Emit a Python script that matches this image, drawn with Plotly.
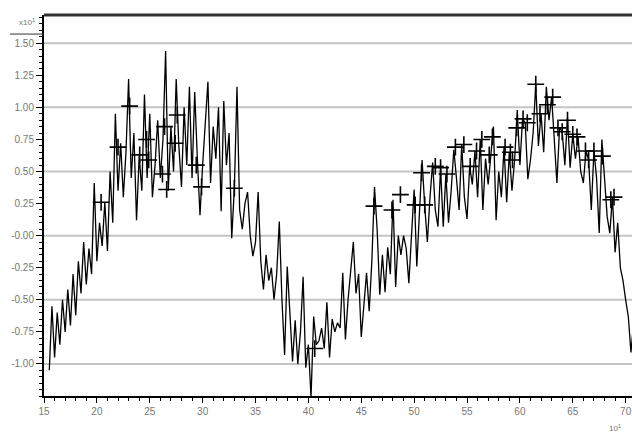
import plotly.graph_objects as go

# ---- data ----
x_start = 15.5
x_step = 0.25
signal = [
    -1.05, -0.55,                      # 15.5 - 15.75
    -0.95, -0.60, -0.85, -0.50,        # 16
    -0.75, -0.42, -0.70, -0.30,        # 17
    -0.62, -0.20, -0.45, -0.05,        # 18
    -0.38, -0.10, -0.30, 0.41,         # 19
    -0.20, 0.10, -0.08, 0.26,          # 20
    -0.12, 0.50, 0.10, 0.95,           # 21
    0.35, 0.72, 0.30, 0.65,            # 22
    1.22, 0.45, 0.80, 0.12,            # 23
    0.62, 0.35, 1.10, 0.45,            # 24
    0.95, 0.30, 0.55, 0.90,            # 25
    0.45, 0.75, 1.44, 0.35,            # 26
    0.85, 0.50, 1.22, 0.70,            # 27
    0.38, 1.00, 0.55, 1.16,            # 28
    0.45, 1.12, 0.60, 0.16,            # 29
    0.55, 0.90, 1.20, 0.41,            # 30
    0.85, 0.60, 1.00, 0.19,            # 31
    1.05, 0.55, 0.80, -0.02,           # 32
    0.37, 1.16, 0.20, 0.05,            # 33
    0.25, 0.34, 0.00, -0.16,           # 34
    -0.05, 0.34, -0.20, -0.42,         # 35
    -0.15, -0.35, -0.25, -0.50,        # 36
    -0.30, 0.11, -0.50, -0.93,         # 37
    -0.24, -0.60, -0.98, -0.66,        # 38
    -1.00, -0.75, -0.32, -1.03,        # 39
    -0.85, -1.26, -0.63, -0.85,        # 40
    -0.82, -0.72, -0.88, -0.52,        # 41
    -0.95, -0.65, -0.75, -0.68,        # 42
    -0.72, -0.29, -0.81, -0.50,        # 43
    -0.30, -0.05, -0.45, -0.30,        # 44
    -0.79, -0.50, -0.29, -0.59,        # 45
    -0.20, 0.38, 0.05, -0.46,          # 46
    -0.15, -0.44, -0.09, -0.30,        # 47
    0.28, -0.40, 0.00, -0.15,          # 48
    0.00, -0.10, -0.37, 0.00,          # 49
    0.36, -0.24, 0.15, 0.59,           # 50
    0.23, -0.05, 0.30, 0.57,           # 51
    0.20, 0.07, 0.53, 0.07,            # 52
    0.48, 0.10, 0.35, 0.67,            # 53
    0.45, 0.20, 0.71, 0.30,            # 54
    0.13, 0.54, 0.40, 0.66,            # 55
    0.30, 0.75, 0.20, 0.60,            # 56
    0.40, 0.60, 0.85, 0.12,            # 57
    0.50, 0.30, 0.69, 0.26,            # 58
    0.65, 0.35, 0.59, 0.98,            # 59
    0.55, 0.91, 0.88, 0.44,            # 60
    0.59, 0.80, 1.18, 0.70,            # 61
    0.95, 0.65, 1.16, 0.90,            # 62
    1.08, 0.75, 0.41, 0.84,            # 63
    0.81, 0.55, 0.92, 0.53,            # 64
    0.79, 0.60, 0.77, 0.50,            # 65
    0.41, 0.66, 0.59, 0.20,            # 66
    0.66, 0.45, 0.02, 0.75,            # 67
    0.45, 0.15, 0.02, 0.30,            # 68
    -0.13, 0.10, -0.25, -0.35,         # 69
    -0.50, -0.63, -0.91, -0.68,        # 70 - 70.5 (last)
]
signal_x = [x_start + i * x_step for i in range(len(signal))]

peak_x = [20.4, 22.0, 23.1, 24.05, 24.7, 24.9, 26.2, 26.4, 26.6, 27.4, 27.6,
          29.4, 29.9, 33.0, 40.6, 46.2, 47.9, 48.7, 50.1, 50.7, 51.0, 52.0,
          52.5, 53.1, 53.9, 54.7, 55.3, 55.9, 56.4, 57.1, 57.4, 58.6, 59.1,
          59.3, 59.7, 60.3, 60.7, 61.5, 61.9, 62.6, 63.1, 63.6, 64.0, 64.5,
          65.0, 65.4, 66.2, 66.5, 67.0, 67.8, 68.6, 68.9]
peak_y = [0.26, 0.69, 1.01, 0.63, 0.75, 0.59, 0.48, 0.85, 0.36, 0.72, 0.94,
          0.55, 0.38, 0.37, -0.88, 0.23, 0.20, 0.32, 0.24, 0.49, 0.24, 0.54,
          0.53, 0.48, 0.69, 0.71, 0.54, 0.66, 0.75, 0.63, 0.77, 0.69, 0.65,
          0.59, 0.84, 0.91, 0.88, 1.18, 0.95, 1.02, 1.08, 0.84, 0.81, 0.90,
          0.79, 0.77, 0.66, 0.59, 0.66, 0.62, 0.28, 0.30]

y_tick_vals = [1.50, 1.25, 1.00, 0.75, 0.50, 0.25, 0.00, -0.25, -0.50, -0.75, -1.00]
y_tick_text = ["1.50", "1.25", "1.00", "0.75", "0.50", "0.25", "-0.00", "-0.25", "-0.50", "-0.75", "-1.00"]
grid_vals = [1.50, 1.00, 0.50, 0.00, -0.50, -1.00]
x_tick_vals = [15, 20, 25, 30, 35, 40, 45, 50, 55, 60, 65, 70]

# ---- figure ----
fig = go.Figure()

for g in grid_vals:
    fig.add_shape(type="line", xref="paper", yref="y", x0=0, x1=1, y0=g, y1=g,
                  line=dict(color="#c4c4c4", width=2), layer="below")

fig.add_trace(go.Scatter(x=signal_x, y=signal, mode="lines",
                         line=dict(color="black", width=1.3), showlegend=False))
fig.add_trace(go.Scatter(x=peak_x, y=peak_y, mode="markers",
                         marker=dict(symbol="cross-thin", size=12,
                                     line=dict(color="black", width=1.6)),
                         showlegend=False))

# top border
fig.add_shape(type="line", xref="paper", yref="paper", x0=0, x1=1, y0=1, y1=1,
              line=dict(color="#333333", width=3))

tick_font = dict(family="Liberation Sans, Arial, sans-serif", size=10, color="#777777")

fig.update_layout(
    width=632, height=435,
    margin=dict(l=44, r=0, t=15, b=39),
    paper_bgcolor="white", plot_bgcolor="white",
    xaxis=dict(range=[15, 70.6], tickvals=x_tick_vals, ticks="outside", ticklen=5,
               tickwidth=1, tickcolor="black", showgrid=False, zeroline=False,
               showline=True, linecolor="black", linewidth=2, tickfont=tick_font,
               minor=dict(dtick=1, tick0=15, ticks="outside", ticklen=3, tickcolor="black")),
    yaxis=dict(range=[-1.25, 1.72], tickvals=y_tick_vals, ticktext=y_tick_text,
               ticks="outside", ticklen=6, tickwidth=1, tickcolor="black",
               showgrid=False, zeroline=False, showline=True, linecolor="black",
               linewidth=2, tickfont=tick_font,
               minor=dict(dtick=0.05, tick0=0, ticks="outside", ticklen=3, tickcolor="black")),
)

fig.add_annotation(text="x10<sup>1</sup>", xref="paper", yref="paper",
                   x=-0.012, y=1.0, xanchor="right", yanchor="top", showarrow=False,
                   font=dict(family="Liberation Sans, Arial, sans-serif", size=8, color="#777777"))
fig.add_shape(type="line", xref="paper", yref="paper", x0=-0.058, x1=0, y0=0.95, y1=0.95,
              line=dict(color="#333333", width=1))
fig.add_annotation(text="10<sup>1</sup>", xref="paper", yref="paper",
                   x=0.985, y=-0.065, xanchor="right", yanchor="top", showarrow=False,
                   font=dict(family="Liberation Sans, Arial, sans-serif", size=8, color="#777777"))

fig.write_html("out.html", config={"displayModeBar": False},
               post_script="document.body.style.margin='0';document.body.style.overflow='hidden';")
